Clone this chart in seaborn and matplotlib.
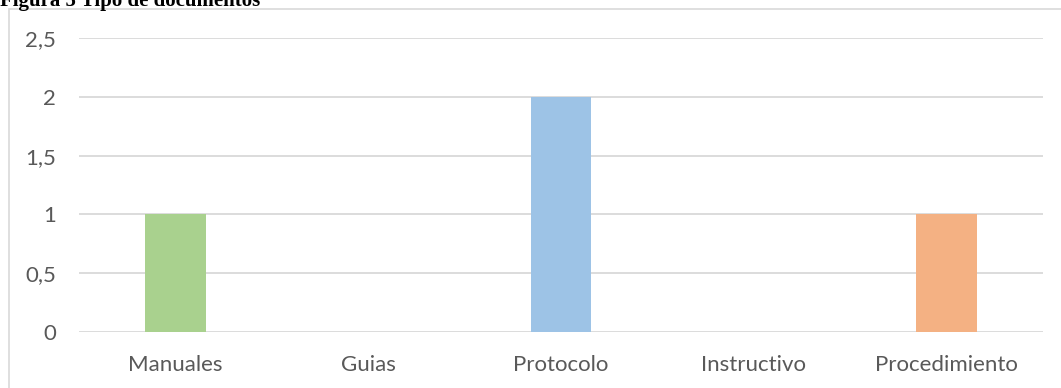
import pandas as pd
import numpy as np
import matplotlib.pyplot as plt
import seaborn as sns
from matplotlib.patches import Rectangle

# Data
categorias = ['Manuales', 'Guias', 'Protocolo', 'Instructivo', 'Procedimiento']
cantidad = [1, 0, 2, 0, 1]
colores = ['#A9D18E', '#A9D18E', '#9DC3E6', '#9DC3E6', '#F4B183']
yticks = [0, 0.5, 1, 1.5, 2, 2.5]
ytick_labels = ['0', '0,5', '1', '1,5', '2', '2,5']

data = pd.DataFrame({'Tipo': categorias, 'Cantidad': cantidad})

sns.set_theme(style='white')
plt.rcParams['font.family'] = ['Lato', 'DejaVu Sans']

W, H = 1061, 388
fig = plt.figure(figsize=(W / 100, H / 100), dpi=100)
ax = fig.add_axes([79 / W, 1 - 332 / H, (1043 - 79) / W, (332 - 38) / H])

sns.barplot(x='Tipo', y='Cantidad', data=data, hue='Tipo', palette=colores,
            width=0.316, legend=False, ax=ax, saturation=1, linewidth=0)

ax.set_ylim(0, 2.5)
ax.set_xlim(-0.5, 4.5)
ax.set_yticks(yticks)
ax.set_yticklabels(ytick_labels)
ax.yaxis.grid(True, color='#D9D9D9', linewidth=1.3)
ax.set_axisbelow(True)
for s in ax.spines.values():
    s.set_visible(False)
ax.tick_params(axis='both', length=0, labelsize=16, colors='#595959')
ax.tick_params(axis='y', pad=16.5)
ax.tick_params(axis='x', pad=16.5)
ax.set_xlabel('')
ax.set_ylabel('')

# Chart border box (runs off the right and bottom edges)
fig.patches.append(Rectangle((9 / W, -0.1), 1.2, 1 - 9 / H + 0.1, transform=fig.transFigure,
                             fill=False, edgecolor='#D9D9D9', linewidth=1.2))

# Caption above the chart (cut off at the top, as in the source)
fig.text(0, 1 - 6 / H, 'Figura 5 Tipo de documentos', family='Liberation Serif',
         fontweight='bold', fontsize=15, va='baseline', ha='left', color='black')

fig.savefig('out.png', dpi=100)
